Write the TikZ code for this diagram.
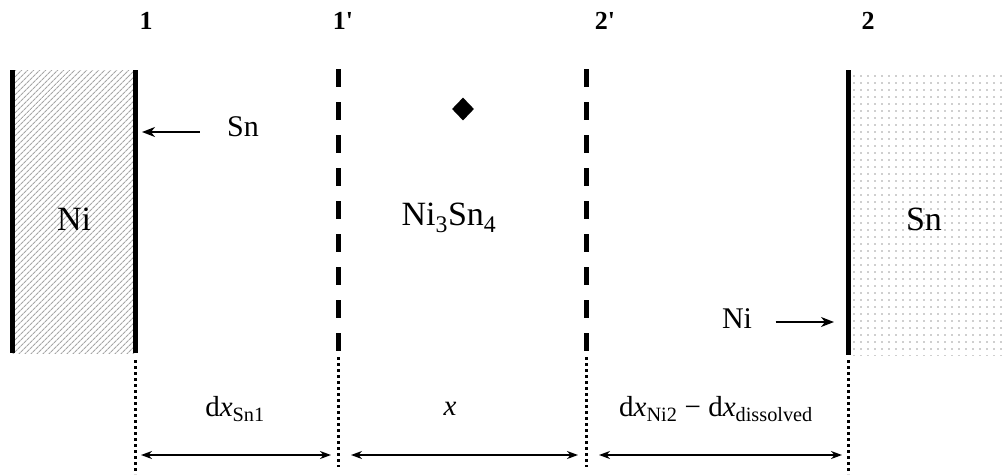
\documentclass[tikz,border=0pt]{standalone}
\usepackage{fontspec}
\setmainfont{Liberation Serif}
\usepackage{tikz}
\usetikzlibrary{arrows.meta,positioning,shapes.geometric,patterns.meta}
\definecolor{hatchgray}{HTML}{A6A6A6}
\definecolor{dotgray}{HTML}{9E9E9E}
\tikzset{
  wall/.style={line width=5pt},
  front/.style={line width=5pt, dash pattern=on 18pt off 15pt},
  guide/.style={line width=3pt, dash pattern=on 3pt off 3pt},
  dimarrow/.style={line width=1.5pt, {Stealth[length=11pt,width=8pt,inset=3.5pt]}-{Stealth[length=11pt,width=8pt,inset=3.5pt]}},
  flux/.style={line width=1.6pt, -{Stealth[length=13pt,width=10pt,inset=4pt]}},
  biglab/.style={font=\fontsize{34}{40}\selectfont},
  midlab/.style={font=\fontsize{30}{34}\selectfont},
  dimlab/.style={font=\fontsize{29}{34}\selectfont},
  toplab/.style={font=\bfseries\fontsize{26}{30}\selectfont}
}
\begin{document}
\begin{tikzpicture}[x=1pt,y=-1pt]
\useasboundingbox (0,0) rectangle (1002,475);

% Ni and Sn blocks
\fill[pattern={Lines[angle=45,distance=4pt,line width=1.1pt]}, pattern color=hatchgray]
    (12,70) rectangle (135,353);
\fill[pattern={Dots[distance=7pt,radius=0.9pt]}, pattern color=dotgray]
    (850,70) rectangle (1002,355);
\draw[wall] (12,70) -- (12,353);
\draw[wall] (135,70) -- (135,353);
\draw[wall] (848,70) -- (848,355);

% Moving fronts 1' and 2'
\foreach \xf in {338,586} {
    \draw[front] (\xf,69) -- (\xf,355);
}

% Guide lines down to the dimension arrows
\draw[guide] (135,360) -- (135,474);
\draw[guide] (338,357) -- (338,467);
\draw[guide] (586,357) -- (586,467);
\draw[guide] (848,360) -- (848,474);

% Interface labels
\node[toplab] (lblone) at (146,21) {1};
\node[toplab] (lbloneprime) at (343,21) {1\textquotesingle};
\node[toplab] (lbltwoprime) at (605,21) {2\textquotesingle};
\node[toplab] (lbltwo) at (868,21) {2};

% Phase labels
\node[biglab] (phaseni) at (74,219) {Ni};
\node[biglab] (phasesn) at (924,219) {Sn};
\node[biglab] (phaseimc) at (449,218) {Ni\textsubscript{3}Sn\textsubscript{4}};
\node[diamond, fill=black, minimum width=22pt, minimum height=23pt, inner sep=0pt] (marker) at (463,109) {};

% Diffusing species
\node[midlab] (fluxsn) at (243,127) {Sn};
\coordinate (fluxsnend) at (142,132);
\draw[flux] (fluxsn.west) ++(-24,5) coordinate (fluxsnstart) -- (fluxsnend);
\node[midlab] (fluxni) at (737,319) {Ni};
\coordinate (fluxniend) at (834,322);
\draw[flux] (fluxni.east) ++(20,3) coordinate (fluxnistart) -- (fluxniend);

% Dimensions
\coordinate (dima) at (141,455);
\coordinate (dimb) at (331,455);
\coordinate (dimc) at (351,455);
\coordinate (dimd) at (578,455);
\coordinate (dime) at (599,455);
\coordinate (dimf) at (842,455);
\draw[dimarrow] (dima) -- (dimb);
\draw[dimarrow] (dimc) -- (dimd);
\draw[dimarrow] (dime) -- (dimf);
\node[dimlab] (dimsn) at (235,409) {d\textit{x}\textsubscript{Sn1}};
\node[dimlab] (dimx) at (450,409) {\textit{x}};
\node[dimlab] (dimni) at (716,409) {d\textit{x}\textsubscript{Ni2} − d\textit{x}\textsubscript{dissolved}};
\end{tikzpicture}
\end{document}
